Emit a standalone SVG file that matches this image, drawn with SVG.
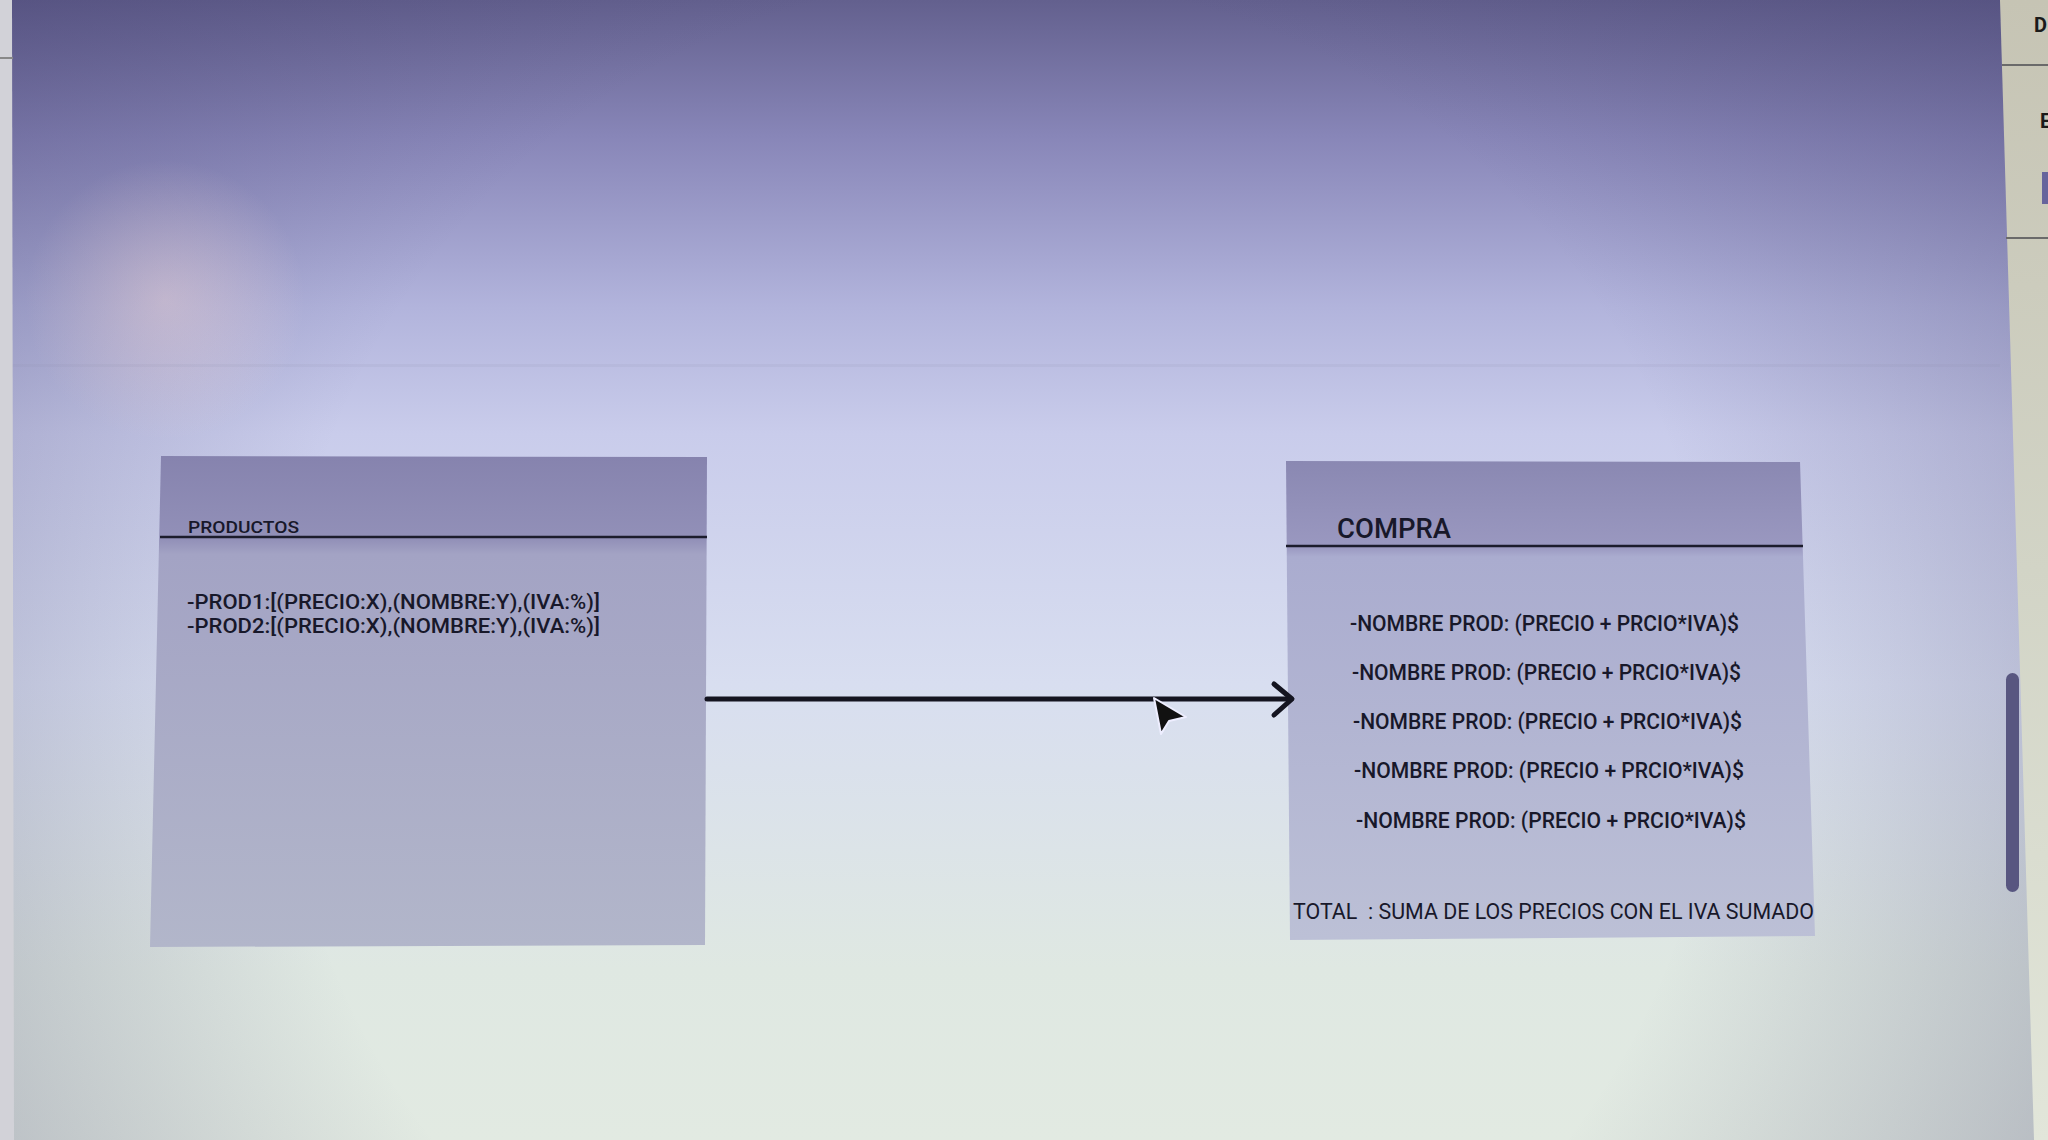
<svg xmlns="http://www.w3.org/2000/svg" width="2048" height="1140" viewBox="0 0 2048 1140">
<defs>
<style>
.t{font-family:Roboto,"Liberation Sans",Arial,sans-serif;fill:#18182a;font-weight:500;}
.n{font-weight:400;white-space:pre;}
.hdr{stroke:#1c1c2c;stroke-width:2.5;}
.conn{stroke:#141420;stroke-width:5;fill:none;stroke-linecap:round;stroke-linejoin:round;}
</style>
<linearGradient id="bg" x1="0" y1="0" x2="0" y2="1">
<stop offset="0" stop-color="#63608e"/>
<stop offset="0.12" stop-color="#8886b8"/>
<stop offset="0.27" stop-color="#b2b4dc"/>
<stop offset="0.38" stop-color="#c9cceb"/>
<stop offset="0.6" stop-color="#d8def0"/>
<stop offset="0.85" stop-color="#dfe8e2"/>
<stop offset="1" stop-color="#e2eae2"/>
</linearGradient>
<radialGradient id="pink" cx="165" cy="300" r="140" gradientUnits="userSpaceOnUse">
<stop offset="0" stop-color="#f2dade" stop-opacity="0.55"/>
<stop offset="1" stop-color="#f2dade" stop-opacity="0"/>
</radialGradient>
<radialGradient id="vig" cx="1000" cy="700" r="1300" gradientUnits="userSpaceOnUse">
<stop offset="0.55" stop-color="#3c3868" stop-opacity="0"/>
<stop offset="1" stop-color="#3c3868" stop-opacity="0.35"/>
</radialGradient>
<linearGradient id="boxA" x1="0" y1="0" x2="0" y2="1">
<stop offset="0" stop-color="#8683ae"/>
<stop offset="0.17" stop-color="#9290b8"/>
<stop offset="0.2" stop-color="#a3a3c4"/>
<stop offset="1" stop-color="#b2b6ca"/>
</linearGradient>
<linearGradient id="boxB" x1="0" y1="0" x2="0" y2="1">
<stop offset="0" stop-color="#8a88b2"/>
<stop offset="0.18" stop-color="#9a98c0"/>
<stop offset="0.2" stop-color="#aaaccf"/>
<stop offset="1" stop-color="#bcc0d6"/>
</linearGradient>
<linearGradient id="panel" x1="0" y1="0" x2="0" y2="1">
<stop offset="0" stop-color="#c6c4b4"/>
<stop offset="0.5" stop-color="#d2d4c6"/>
<stop offset="1" stop-color="#e2e6da"/>
</linearGradient>
</defs>

<!-- background -->
<rect x="0" y="0" width="2048" height="1140" fill="url(#bg)"/>
<rect x="0" y="0" width="2048" height="1140" fill="url(#pink)"/>
<rect x="0" y="0" width="2048" height="1140" fill="url(#vig)"/>
<rect x="0" y="364" width="2000" height="3" fill="#8a8aa8" opacity="0.1"/>
<polygon points="0,0 12,0 14,1140 0,1140" fill="#d2d2d8"/>
<line x1="0" y1="58" x2="13" y2="58" stroke="#888" stroke-width="2"/>

<!-- right side panel -->
<polygon points="2000,0 2048,0 2048,1140 2034,1140" fill="url(#panel)"/>
<line x1="2002" y1="65" x2="2048" y2="65" stroke="#6a6a6a" stroke-width="2"/>
<line x1="2006" y1="238" x2="2048" y2="238" stroke="#6a6a6a" stroke-width="2"/>
<text x="2034" y="32" font-family="Roboto,'Liberation Sans',sans-serif" font-weight="bold" font-size="20" fill="#1a1a1a">D</text>
<text x="2040" y="128" font-family="Roboto,'Liberation Sans',sans-serif" font-weight="bold" font-size="20" fill="#1a1a1a">E</text>
<rect x="2042" y="172" width="8" height="32" fill="#66649c"/>
<rect x="2006" y="673" width="13" height="219" rx="6.5" fill="#585680"/>

<!-- PRODUCTOS node -->
<g id="productos">
<polygon points="161,456 707,457 705,945 150,947" fill="url(#boxA)"/>
<line class="hdr" x1="160" y1="537" x2="707" y2="537"/>
<text class="t" x="188" y="533" font-size="17" textLength="111" lengthAdjust="spacingAndGlyphs">PRODUCTOS</text>
<text class="t" x="187" y="609" font-size="21" textLength="413" lengthAdjust="spacingAndGlyphs">-PROD1:[(PRECIO:X),(NOMBRE:Y),(IVA:%)]</text>
<text class="t" x="187" y="633" font-size="21" textLength="413" lengthAdjust="spacingAndGlyphs">-PROD2:[(PRECIO:X),(NOMBRE:Y),(IVA:%)]</text>
</g>

<!-- COMPRA node -->
<g id="compra">
<polygon points="1286,461 1800,462 1815,936 1290,940" fill="url(#boxB)"/>
<line class="hdr" x1="1286" y1="546" x2="1803" y2="546"/>
<text class="t" x="1337" y="538" font-size="28" textLength="114" lengthAdjust="spacingAndGlyphs">COMPRA</text>
<text class="t" x="1350" y="631" font-size="22" textLength="389" lengthAdjust="spacingAndGlyphs">-NOMBRE PROD: (PRECIO + PRCIO*IVA)$</text>
<text class="t" x="1352" y="680" font-size="22" textLength="389" lengthAdjust="spacingAndGlyphs">-NOMBRE PROD: (PRECIO + PRCIO*IVA)$</text>
<text class="t" x="1353" y="729" font-size="22" textLength="389" lengthAdjust="spacingAndGlyphs">-NOMBRE PROD: (PRECIO + PRCIO*IVA)$</text>
<text class="t" x="1354" y="778" font-size="22" textLength="390" lengthAdjust="spacingAndGlyphs">-NOMBRE PROD: (PRECIO + PRCIO*IVA)$</text>
<text class="t" x="1356" y="828" font-size="22" textLength="390" lengthAdjust="spacingAndGlyphs">-NOMBRE PROD: (PRECIO + PRCIO*IVA)$</text>
<text class="t n" x="1293" y="919" font-size="22" textLength="521" lengthAdjust="spacingAndGlyphs">TOTAL  : SUMA DE LOS PRECIOS CON EL IVA SUMADO</text>
</g>

<!-- connectors -->
<g id="connectors">
<line class="conn" x1="707" y1="699" x2="1291" y2="699"/>
<polyline class="conn" points="1274,684 1292,699 1274,715"/>
</g>

<!-- mouse pointer -->
<polygon points="1154,698 1161,734 1169,721 1186,717" fill="#111" stroke="#eef" stroke-width="2" stroke-linejoin="round"/>
</svg>
